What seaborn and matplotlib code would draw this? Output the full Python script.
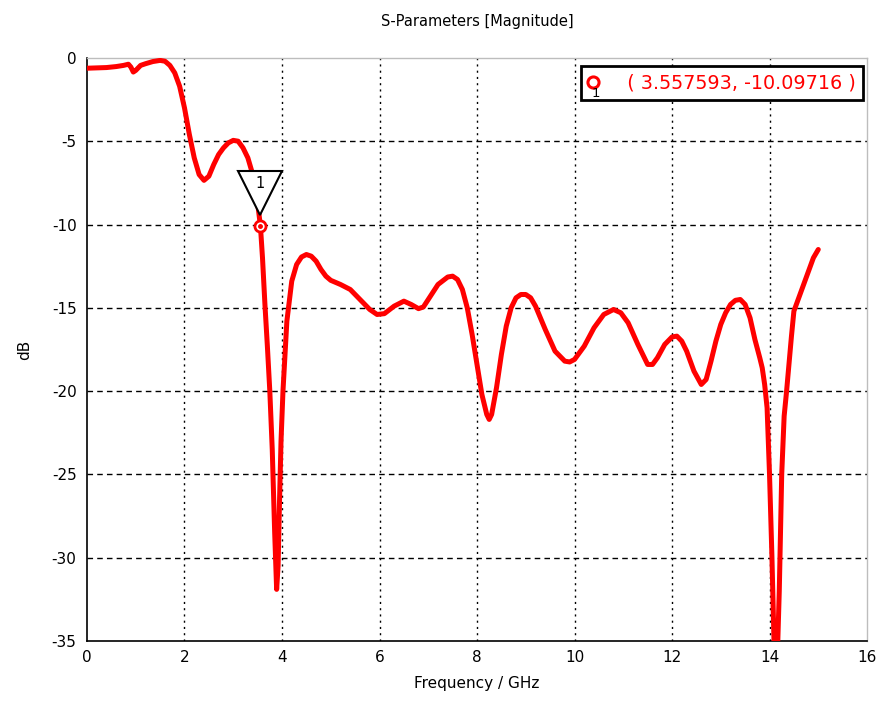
import numpy as np
import pandas as pd
import matplotlib.pyplot as plt
import matplotlib.transforms as mtransforms
from matplotlib.lines import Line2D
import seaborn as sns

sns.set_style("white")
plt.rcParams['font.family'] = ['DejaVu Sans']
plt.rcParams['axes.unicode_minus'] = False

# S11 magnitude
freq_ghz = [0.0, 0.2, 0.4, 0.6, 0.75, 0.85, 0.9, 0.95, 1.0, 1.1, 1.2, 1.35, 1.5, 1.6, 1.7,
            1.8, 1.9, 2.0, 2.1, 2.2, 2.3, 2.4, 2.5, 2.6, 2.7, 2.8, 2.9, 3.0, 3.1, 3.2,
            3.3, 3.4, 3.5, 3.557593, 3.6, 3.65, 3.7, 3.75, 3.8, 3.85, 3.89, 3.92, 3.95, 3.98, 4.02,
            4.1, 4.2, 4.3, 4.4, 4.5, 4.6, 4.7, 4.8, 4.9, 5.0, 5.2, 5.4, 5.6, 5.8, 5.95,
            6.1, 6.3, 6.5, 6.65, 6.8, 6.9, 7.0, 7.2, 7.4, 7.5, 7.6, 7.7, 7.8, 7.9, 8.0,
            8.1, 8.2, 8.25, 8.3, 8.4, 8.5, 8.6, 8.7, 8.8, 8.9, 9.0, 9.1, 9.2, 9.4, 9.6,
            9.8, 9.9, 10.0, 10.2, 10.4, 10.6, 10.8, 10.95, 11.1, 11.3, 11.5, 11.6, 11.7, 11.85, 12.0,
            12.1, 12.2, 12.3, 12.45, 12.6, 12.7, 12.8, 12.9, 13.0, 13.1, 13.2, 13.3, 13.4, 13.5, 13.6,
            13.7, 13.8, 13.85, 13.9, 13.95, 14.0, 14.05, 14.1, 14.15, 14.2, 14.25, 14.3, 14.35, 14.45, 14.5,
            14.65, 14.8, 14.9, 15.0]
s11_db = [-0.62, -0.60, -0.58, -0.52, -0.45, -0.38, -0.55, -0.85, -0.75, -0.45, -0.35, -0.22, -0.15, -0.2, -0.45,
          -0.9, -1.7, -3.0, -4.6, -6.0, -7.0, -7.35, -7.1, -6.4, -5.8, -5.4, -5.1, -4.95, -5.0, -5.4,
          -6.0, -7.0, -8.7, -10.09716, -12.0, -14.8, -17.3, -20.0, -23.5, -28.5, -31.9, -30.5, -26.5, -23.0, -20.0,
          -15.8, -13.4, -12.4, -11.95, -11.8, -11.9, -12.2, -12.7, -13.1, -13.35, -13.6, -13.9, -14.5, -15.1, -15.4,
          -15.35, -14.9, -14.6, -14.8, -15.05, -14.95, -14.5, -13.6, -13.15, -13.1, -13.3, -13.9, -15.0, -16.6, -18.4,
          -20.2, -21.4, -21.7, -21.4, -19.8, -17.8, -16.1, -15.0, -14.4, -14.2, -14.2, -14.4, -14.9, -16.3, -17.6,
          -18.2, -18.25, -18.1, -17.3, -16.2, -15.4, -15.1, -15.3, -15.9, -17.2, -18.4, -18.4, -18.0, -17.2, -16.75,
          -16.7, -17.0, -17.6, -18.8, -19.6, -19.3, -18.2, -17.0, -16.0, -15.3, -14.8, -14.55, -14.5, -14.8, -15.6,
          -16.9, -18.0, -18.6, -19.6, -21.0, -25.0, -30.0, -36.0, -37.0, -32.0, -25.0, -21.5, -20.0, -16.7, -15.2,
          -14.0, -12.8, -12.0, -11.5]

marker_f = 3.557593
marker_db = -10.09716
marker_label = "1"

x_ticks = [0, 2, 4, 6, 8, 10, 12, 14, 16]
y_ticks = [0, -5, -10, -15, -20, -25, -30, -35]

df = pd.DataFrame({"freq": freq_ghz, "db": s11_db})

fig = plt.figure(figsize=(8.84, 7.06), dpi=100)
ax = fig.add_axes([0.0984, 0.092, 0.8824, 0.826])

sns.lineplot(data=df, x="freq", y="db", color="#ff0000", linewidth=3.6, ax=ax, zorder=3)

ax.set_xlim(0, 16)
ax.set_ylim(-35, 0)
ax.set_xticks(x_ticks)
ax.set_yticks(y_ticks)

# grid: dotted verticals, dashed horizontals
ax.xaxis.grid(True, linestyle=(0, (1.5, 3)), color="black", linewidth=1.0)
ax.yaxis.grid(True, linestyle=(0, (4, 3)), color="black", linewidth=1.0)
ax.set_axisbelow(True)
ax.xaxis.get_gridlines()[0].set_visible(False)
ax.xaxis.get_gridlines()[-1].set_visible(False)
ax.yaxis.get_gridlines()[0].set_visible(False)
ax.yaxis.get_gridlines()[-1].set_visible(False)
for s in ["top", "right"]:
    ax.spines[s].set_color("#bdbdbd")
    ax.spines[s].set_linewidth(1.0)
for s in ["left", "bottom"]:
    ax.spines[s].set_color("black")
    ax.spines[s].set_linewidth(1.2)
ax.tick_params(axis="x", direction="inout", length=6, width=1, colors="black", labelsize=11)
ax.tick_params(axis="y", direction="out", length=4, width=1, colors="black", labelsize=11)

ax.set_xlabel("Frequency / GHz", fontsize=11, labelpad=8, color="black")
ax.set_ylabel("dB", fontsize=11, labelpad=14, color="black")
ax.set_title("S-Parameters [Magnitude]", fontsize=10.5, pad=23, color="black")

# marker 1 on the curve
ax.plot(marker_f, marker_db, marker="o", markersize=8, markerfacecolor="white",
        markeredgecolor="#ff0000", markeredgewidth=2, zorder=5)
ax.plot(marker_f, marker_db, marker="o", markersize=2.5, color="#ff0000", zorder=6)

# triangle flag above the marker
tri_off = mtransforms.ScaledTranslation(0, 24 / 72, fig.dpi_scale_trans)
ax.plot(marker_f, marker_db, marker="v", markersize=31, markerfacecolor="white",
        markeredgecolor="black", markeredgewidth=1.5, zorder=4,
        transform=ax.transData + tri_off, clip_on=False)
txt_off = mtransforms.ScaledTranslation(0, 31 / 72, fig.dpi_scale_trans)
ax.text(marker_f, marker_db, marker_label, ha="center", va="center", fontsize=10.5,
        color="black", transform=ax.transData + txt_off, zorder=6)

# readout box
handle = Line2D([], [], linestyle="none", marker="o", markersize=8, markerfacecolor="white",
                markeredgecolor="#ff0000", markeredgewidth=2.2)
leg = ax.legend([handle], [f"  ( {marker_f:.6f}, {marker_db:.5f} )"], loc="upper right",
                bbox_to_anchor=(0.995, 0.986), frameon=True, fancybox=False, framealpha=1,
                fontsize=13.8, handlelength=0.55, handletextpad=0.85, borderpad=0.38, borderaxespad=0)
leg.get_frame().set_edgecolor("black")
leg.get_frame().set_linewidth(2.0)
leg.set_zorder(8)
for t in leg.get_texts():
    t.set_color("#ff0000")
ax.text(0.6525, 0.9385, marker_label, transform=ax.transAxes, fontsize=9.5, color="black",
        ha="center", va="center", zorder=10)

fig.savefig("out.png", dpi=100)
